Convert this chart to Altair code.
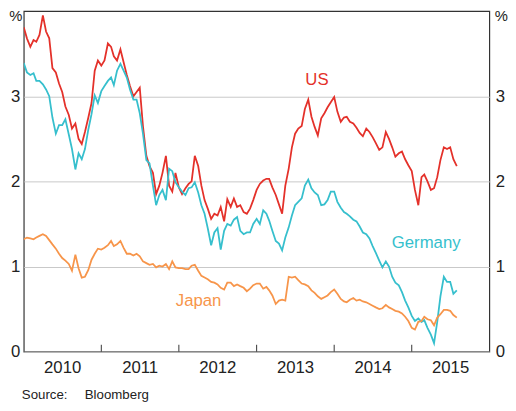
import altair as alt
import pandas as pd

# Semi-monthly sample dates, Jan 2010 to Aug 2015
dates = []
for yr in range(2010, 2016):
    for mo in range(1, 13):
        for dy in (1, 16):
            dates.append(f"{yr}-{mo:02d}-{dy:02d}")
dates = dates[:135]

us = [3.81, 3.68, 3.58, 3.66, 3.64, 3.72, 3.95, 3.76, 3.68, 3.33,
      3.28, 3.15, 3.05, 2.88, 2.78, 2.62, 2.68, 2.50, 2.44, 2.58,
      2.75, 2.92, 3.30, 3.42, 3.36, 3.42, 3.62, 3.58, 3.47, 3.42,
      3.55, 3.40, 3.25, 3.12, 3.00, 3.05, 3.10, 2.65, 2.30, 2.18,
      2.10, 1.85, 1.95, 2.10, 2.30, 1.95, 1.88, 2.10, 1.93, 1.85,
      1.92, 1.97, 2.00, 2.30, 2.18, 1.95, 1.78, 1.68, 1.56, 1.62,
      1.60, 1.70, 1.53, 1.79, 1.70, 1.80, 1.70, 1.72, 1.64, 1.62,
      1.68, 1.78, 1.90, 1.97, 2.01, 2.03, 2.03, 1.93, 1.84, 1.73,
      1.62, 1.95, 2.15, 2.40, 2.56, 2.62, 2.65, 2.85, 2.96, 2.76,
      2.64, 2.54, 2.74, 2.80, 2.87, 2.93, 2.99, 2.82, 2.70, 2.75,
      2.76, 2.70, 2.68, 2.63, 2.57, 2.53, 2.62, 2.58, 2.52, 2.45,
      2.37, 2.40, 2.58, 2.50, 2.40, 2.29, 2.33, 2.35, 2.26, 2.19,
      2.12, 1.90, 1.72, 2.05, 2.08, 2.00, 1.90, 1.92, 2.05, 2.25,
      2.40, 2.38, 2.40, 2.26, 2.18]

germany = [3.39, 3.28, 3.25, 3.27, 3.18, 3.18, 3.14, 3.08, 3.00, 2.75,
           2.56, 2.66, 2.66, 2.73, 2.55, 2.38, 2.14, 2.33, 2.26, 2.38,
           2.61, 2.79, 3.01, 2.92, 3.06, 3.12, 3.18, 3.22, 3.13, 3.30,
           3.38, 3.30, 3.22, 3.08, 2.96, 2.96, 2.80, 2.56, 2.25, 2.21,
           1.95, 1.72, 1.84, 1.90, 1.78, 2.15, 2.12, 1.99, 1.93, 1.88,
           1.84, 1.92, 1.93, 1.99, 1.87, 1.72, 1.62, 1.45, 1.25, 1.40,
           1.45, 1.20, 1.42, 1.50, 1.48, 1.55, 1.58, 1.42, 1.38, 1.40,
           1.40, 1.50, 1.56, 1.50, 1.66, 1.62, 1.54, 1.42, 1.30, 1.27,
           1.19, 1.34, 1.46, 1.60, 1.72, 1.76, 1.80, 1.95, 2.02, 1.92,
           1.87, 1.84, 1.72, 1.73, 1.78, 1.88, 1.88, 1.76, 1.69, 1.64,
           1.62, 1.59, 1.55, 1.53, 1.47, 1.40, 1.38, 1.33, 1.24, 1.16,
           1.07, 0.99, 1.06, 1.00, 0.88, 0.81, 0.78, 0.70, 0.60, 0.52,
           0.42, 0.36, 0.39, 0.35, 0.37, 0.28, 0.20, 0.10, 0.35, 0.65,
           0.88, 0.82, 0.82, 0.68, 0.72]

japan = [1.32, 1.34, 1.33, 1.32, 1.34, 1.36, 1.38, 1.36, 1.31, 1.26,
         1.21, 1.15, 1.10, 1.07, 1.03, 0.95, 1.14, 0.98, 0.87, 0.88,
         0.96, 1.08, 1.15, 1.21, 1.20, 1.22, 1.25, 1.30, 1.24, 1.26,
         1.30, 1.22, 1.15, 1.15, 1.13, 1.15, 1.12, 1.06, 1.04, 1.02,
         1.03, 0.99, 1.01, 1.00, 1.03, 0.97, 1.06, 0.99, 0.98, 0.98,
         0.97, 0.97, 1.01, 1.02, 0.95, 0.89, 0.87, 0.85, 0.82, 0.81,
         0.79, 0.75, 0.73, 0.81, 0.81, 0.77, 0.79, 0.77, 0.75, 0.71,
         0.74, 0.78, 0.80, 0.80, 0.74, 0.76, 0.72, 0.66, 0.56, 0.60,
         0.61, 0.60, 0.88, 0.87, 0.88, 0.84, 0.80, 0.79, 0.77, 0.72,
         0.69, 0.65, 0.62, 0.64, 0.66, 0.70, 0.73, 0.68, 0.62, 0.59,
         0.58, 0.61, 0.63, 0.60, 0.61, 0.59, 0.58, 0.56, 0.54, 0.52,
         0.50, 0.51, 0.55, 0.52, 0.50, 0.48, 0.47, 0.45, 0.41, 0.36,
         0.28, 0.26, 0.35, 0.36, 0.41, 0.38, 0.37, 0.31, 0.40, 0.44,
         0.49, 0.49, 0.48, 0.43, 0.40]

series_names = ["US", "Germany", "Japan"]
series_colors = ["#e4312a", "#36bfcd", "#f7954a"]

label_dates = ["2013-10-12", "2015-03-10", "2012-04-03"]
label_values = [3.19, 1.28, 0.59]

year_ticks = ["2011-01-01", "2012-01-01", "2013-01-01", "2014-01-01", "2015-01-01"]
label_years = [2010, 2011, 2012, 2013, 2014, 2015]
y_ticks = [0, 1, 2, 3]

FONT = "Liberation Sans"

rows = []
for name, vals in zip(series_names, [us, germany, japan]):
    for d, v in zip(dates, vals):
        rows.append({"date": d, "value": v, "series": name})
df = pd.DataFrame(rows)

labels_df = pd.DataFrame({"date": label_dates, "value": label_values, "series": series_names})
ticks_df = pd.DataFrame({"date": year_ticks})

xscale = alt.Scale(type="utc", domain=[alt.DateTime(year=2010, month=1, date=1, utc=True),
                                       alt.DateTime(year=2016, month=1, date=1, utc=True)])
yscale = alt.Scale(domain=[0, 4], nice=False)
cscale = alt.Scale(domain=series_names, range=series_colors)

x_axis = alt.Axis(values=[alt.DateTime(year=y, month=1, date=1, utc=True) for y in label_years],
                  labelExpr="utcFormat(datum.value, '%Y')", ticks=False, domain=False,
                  grid=False, labelOffset=39, labelPadding=8, labelFontSize=17,
                  labelFont=FONT, labelColor="#222", title=None, labelFlush=False,
                  labelOverlap=False)

left_axis = alt.Axis(values=y_ticks, orient="left", ticks=False, domain=False, grid=True,
                     gridColor="#c8c8c8", gridWidth=1, labelFontSize=17, labelFont=FONT,
                     labelColor="#222", labelPadding=4, title="%", titleAngle=0,
                     titleX=-2, titleY=10, titleAlign="right", titleBaseline="alphabetic",
                     titleFont=FONT, titleFontSize=15, titleFontWeight="normal", titleColor="#222")

right_axis = alt.Axis(values=y_ticks, orient="right", ticks=False, domain=False, grid=False,
                      labelFontSize=17, labelFont=FONT, labelColor="#222", labelPadding=6,
                      title="%", titleAngle=0, titleX=5, titleY=10, titleAlign="left",
                      titleBaseline="alphabetic", titleFont=FONT, titleFontSize=15,
                      titleFontWeight="normal", titleColor="#222")

X = alt.X("date:T", scale=xscale, axis=x_axis)

lines = alt.Chart(df).mark_line(strokeWidth=1.8, clip=True).encode(
    x=X,
    y=alt.Y("value:Q", scale=yscale, axis=left_axis),
    color=alt.Color("series:N", scale=cscale, legend=None),
    detail="series:N",
)

right = alt.Chart(df).mark_line(opacity=0).encode(
    x=X,
    y=alt.Y("value:Q", scale=yscale, axis=right_axis),
    detail="series:N",
)

tick_marks = alt.Chart(ticks_df).mark_rule(color="#333", strokeWidth=1).encode(
    x=X,
    y=alt.value(339),
    y2=alt.value(346),
)

texts = alt.Chart(labels_df).mark_text(font=FONT, fontSize=17, align="center",
                                       baseline="middle").encode(
    x=X,
    y=alt.Y("value:Q", scale=yscale, axis=None),
    color=alt.Color("series:N", scale=cscale, legend=None),
    text="series:N",
)

src_df = pd.DataFrame({"t": ["Source:", "Bloomberg"]})
source1 = alt.Chart(src_df).transform_filter(alt.datum.t == "Source:").mark_text(
    font=FONT, fontSize=13.5, align="left", baseline="alphabetic", color="#222"
).encode(x=alt.value(-2), y=alt.value(394), text="t:N")
source2 = alt.Chart(src_df).transform_filter(alt.datum.t == "Bloomberg").mark_text(
    font=FONT, fontSize=13.5, align="left", baseline="alphabetic", color="#222"
).encode(x=alt.value(62), y=alt.value(394), text="t:N")

chart = alt.layer(lines, right, tick_marks, texts, source1, source2).resolve_axis(
    y="independent"
).properties(
    width=473, height=346,
    autosize=alt.AutoSizeParams(type="none"),
    padding={"left": 16, "right": 19, "top": 0, "bottom": 49},
).configure_view(stroke="#333", strokeWidth=1.2)

chart.save("out.html", embed_options={"renderer": "svg", "actions": False})
